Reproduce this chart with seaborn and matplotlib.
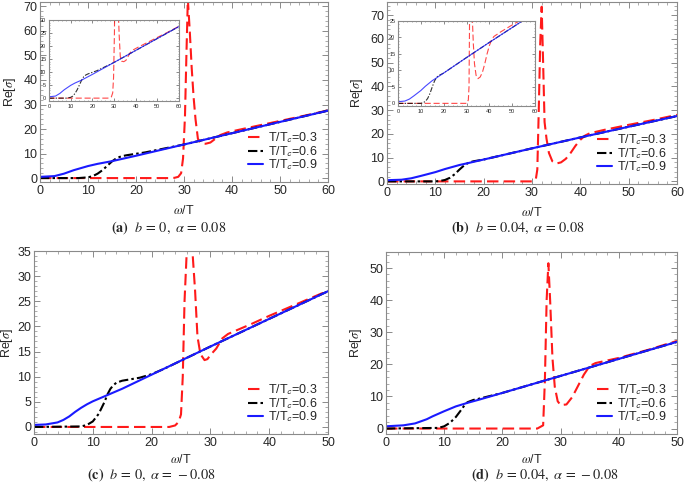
import matplotlib
matplotlib.use("Agg")
import matplotlib.pyplot as plt
import seaborn as sns
from matplotlib.ticker import MultipleLocator, AutoMinorLocator

# ---- panel (a): b = 0, alpha = 0.08
xa_09 = [0, 3, 5, 7, 10, 12, 15, 20, 30, 40, 50, 60]
ya_09 = [0.5, 0.8, 1.8, 3.2, 4.9, 5.8, 6.9, 9.1, 13.7, 18.3, 22.9, 27.5]
xa_06 = [0, 8, 10, 11, 12, 13, 14, 15, 16, 17, 18, 20, 22, 30, 40, 50, 60]
ya_06 = [0, 0, 0.3, 0.8, 1.8, 3.2, 5.0, 6.8, 8.2, 8.9, 9.3, 9.9, 10.5, 13.7, 18.3, 22.9, 27.5]
xa_03 = [0, 27, 28, 28.8, 29.4, 29.8, 30.2, 30.5, 30.8, 31.2, 31.6, 32, 32.4, 32.9,
         33.5, 34.5, 35.5, 36.5, 37.5, 39, 41, 45, 50, 55, 60]
ya_03 = [0, 0, 0.1, 0.5, 2, 8, 25, 50, 73, 60, 45, 33, 24, 16,
         14.2, 14.0, 14.5, 16, 17.5, 18.6, 19.5, 21.2, 23.3, 25.4, 27.6]

# ---- panel (b): b = 0.04, alpha = 0.08
xb_09 = [0, 3, 5, 7, 10, 12, 15, 17, 20, 30, 40, 50, 60]
yb_09 = [0.5, 0.7, 1.3, 2.3, 3.9, 5.2, 6.9, 7.8, 9.2, 13.9, 18.5, 23.0, 27.5]
xb_06 = [0, 10, 11, 12, 13, 14, 15, 16, 17, 18, 20, 30, 40, 50, 60]
yb_06 = [0, 0, 0.2, 0.6, 1.5, 3.0, 5.0, 6.8, 8.0, 8.5, 9.2, 13.9, 18.5, 23.0, 27.5]
xb_03 = [0, 30, 30.8, 31.1, 31.4, 31.7, 32, 32.3, 32.6, 33, 33.5, 34.2, 35, 36, 37,
         38, 39, 40, 41, 42, 45, 50, 55, 60]
yb_03 = [0, 0, 1, 5, 30, 58, 73.5, 50, 25, 18, 12, 8.5, 7.5, 8, 9.5,
         12, 15, 17.5, 19.3, 20.3, 21.7, 23.8, 25.8, 28]

# ---- panel (c): b = 0, alpha = -0.08
xc_09 = [0, 2, 4, 5, 6, 7, 8, 9, 10, 11, 12, 13, 15, 20, 30, 40, 50]
yc_09 = [0.4, 0.5, 0.9, 1.4, 2.1, 3.0, 3.8, 4.5, 5.1, 5.6, 6.1, 6.6, 7.6, 10.4, 16.0, 21.5, 27.0]
xc_06 = [0, 8, 9, 10, 11, 12, 12.5, 13, 13.5, 14, 15, 16, 17, 18, 20, 22, 30, 40, 50]
yc_06 = [0, 0.1, 0.4, 1.1, 2.6, 5.0, 6.5, 7.6, 8.3, 8.8, 9.2, 9.4, 9.6, 9.8, 10.5, 11.5, 16.0, 21.5, 27.0]
xc_03 = [0, 23, 24, 24.6, 25, 25.3, 25.6, 26, 26.5, 27, 27.4, 27.8, 28.3, 29, 29.5,
         30, 31, 31.6, 32, 33, 35, 37, 40, 45, 50]
yc_03 = [0, 0, 0.3, 1.0, 2.5, 10, 25, 35.5, 35.8, 34, 27, 18, 14.5, 13.3, 13.5,
         14.3, 15.6, 16.8, 17.6, 18.5, 19.5, 20.5, 22.1, 24.6, 27.1]

# ---- panel (d): b = 0.04, alpha = -0.08
xd_09 = [0, 3, 5, 7, 8, 10, 12, 14, 16, 20, 30, 40, 50]
yd_09 = [0.7, 1.0, 1.6, 2.9, 3.8, 5.4, 6.9, 8.0, 9.0, 11.1, 16.4, 21.7, 27.0]
xd_06 = [0, 9, 10, 11, 12, 13, 13.5, 14, 15, 16, 20, 30, 40, 50]
yd_06 = [0, 0.2, 0.7, 1.8, 3.6, 6.0, 7.3, 8.2, 8.9, 9.3, 11.1, 16.4, 21.7, 27.0]
xd_03 = [0, 26, 27, 27.3, 27.6, 27.9, 28.2, 28.6, 29.0, 29.5, 30, 31, 32, 33, 34,
         35, 36, 38, 40, 45, 50]
yd_03 = [0, 0, 1, 15, 40, 51.5, 40, 22, 13, 8.5, 7.3, 7.5, 9.8, 13.3, 16.8,
         19.5, 20.4, 21.2, 22.0, 24.5, 27.3]

labels = ["T/T$_{\\mathsf{c}}$=0.3", "T/T$_{\\mathsf{c}}$=0.6", "T/T$_{\\mathsf{c}}$=0.9"]
captions = [r"$\mathbf{(a)}\ \ b\,=\,0,\ \alpha\,=\,0.08$",
            r"$\mathbf{(b)}\ \ b\,=\,0.04,\ \alpha\,=\,0.08$",
            r"$\mathbf{(c)}\ \ b\,=\,0,\ \alpha\,=\,-0.08$",
            r"$\mathbf{(d)}\ \ b\,=\,0.04,\ \alpha\,=\,-0.08$"]

sns.set_style("ticks")
plt.rcParams['font.family'] = ['Liberation Sans', 'DejaVu Sans']
plt.rcParams['mathtext.fontset'] = 'stix'
plt.rcParams['font.size'] = 9

FRAME = "#8a8a8a"


def frame(ax, xmaj, ymaj, lsize=9, length=4):
    for s in ax.spines.values():
        s.set_color(FRAME)
        s.set_linewidth(0.8)
    ax.xaxis.set_major_locator(MultipleLocator(xmaj))
    ax.yaxis.set_major_locator(MultipleLocator(ymaj))
    ax.xaxis.set_minor_locator(AutoMinorLocator(5))
    ax.yaxis.set_minor_locator(AutoMinorLocator(5))
    ax.tick_params(which='both', direction='in', top=True, right=True,
                   color=FRAME, labelsize=lsize, pad=2)
    ax.tick_params(which='major', length=length, width=0.7)
    ax.tick_params(which='minor', length=length / 2, width=0.5)


def curves(ax, data, lw, alpha=1.0, leg=True):
    (x3, y3), (x6, y6), (x9, y9) = data
    sns.lineplot(x=x3, y=y3, ax=ax, color='#ff1a1a', linestyle=(0, (5.5, 2.5)), lw=lw,
                 alpha=alpha, label=labels[0] if leg else None, estimator=None)
    sns.lineplot(x=x6, y=y6, ax=ax, color='black', linestyle=(0, (4.5, 1.5, 1.2, 1.5)), lw=lw,
                 alpha=alpha, label=labels[1] if leg else None, estimator=None)
    sns.lineplot(x=x9, y=y9, ax=ax, color='#1a1aff', linestyle='-', lw=lw,
                 alpha=alpha, label=labels[2] if leg else None, estimator=None)


W, H = 685, 482
fig = plt.figure(figsize=(6.85, 4.82), dpi=100)


def rect(l, t, r, b):
    return [l / W, 1 - b / H, (r - l) / W, (b - t) / H]


panels = [
    (rect(40, 2, 328, 182), [(xa_03, ya_03), (xa_06, ya_06), (xa_09, ya_09)], 60, (-1.6, 71.8), 10, 4, 5),
    (rect(387, 2, 677, 184), [(xb_03, yb_03), (xb_06, yb_06), (xb_09, yb_09)], 60, (-1.1, 75.5), 10, 4, 5),
    (rect(34, 251, 328, 434), [(xc_03, yc_03), (xc_06, yc_06), (xc_09, yc_09)], 50, (-1.4, 35), 5, 1.5, 3),
    (rect(386, 252, 677, 434), [(xd_03, yd_03), (xd_06, yd_06), (xd_09, yd_09)], 50, (-1.7, 55), 10, 4, 3),
]
cap_pos = [(169, 232), (518, 232), (151, 479), (545, 479)]

for r, data, xmax, ylim, ystep, ypad, xpad in panels:
    ax = fig.add_axes(r)
    curves(ax, data, lw=1.5)
    ax.set_xlim(0, xmax)
    ax.set_ylim(*ylim)
    frame(ax, 10, ystep)
    ax.set_xlabel(r"$\omega$/T", fontsize=9, labelpad=xpad)
    ax.set_ylabel(r"Re[$\sigma$]", fontsize=9, labelpad=ypad)
    ax.legend(loc='lower right', frameon=False, fontsize=9, handlelength=1.25,
              handletextpad=0.4, labelspacing=-0.12, borderaxespad=0.4)

for (cx, cy), text in zip(cap_pos, captions):
    fig.text(cx / W, 1 - cy / H, text, ha='center', va='baseline', fontsize=10.3)

# insets in the two upper panels
insets = [
    (rect(49, 20, 179, 101), [(xa_03, ya_03), (xa_06, ya_06), (xa_09, ya_09)], (-1.1, 30)),
    (rect(398, 21, 535, 106), [(xb_03, yb_03), (xb_06, yb_06), (xb_09, yb_09)], (-0.8, 25)),
]
for r, data, ylim in insets:
    ins = fig.add_axes(r)
    curves(ins, data, lw=0.8, alpha=0.8, leg=False)
    ins.set_xlim(0, 60)
    ins.set_ylim(*ylim)
    frame(ins, 10, 5, lsize=4, length=2)
    ins.set_xlabel("")
    ins.set_ylabel("")

fig.savefig("out.png", dpi=100)
